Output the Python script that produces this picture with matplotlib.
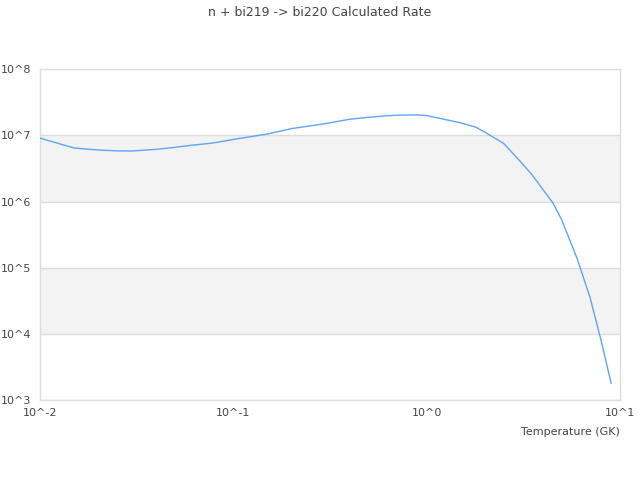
import matplotlib
matplotlib.use('Agg')
import matplotlib.pyplot as plt

# temperature grid (GK) and calculated rate
temperature = [0.01, 0.015, 0.02, 0.025, 0.03, 0.04, 0.05, 0.06, 0.07, 0.08, 0.09,
               0.1, 0.15, 0.2, 0.3, 0.4, 0.5, 0.6, 0.7, 0.8, 0.9,
               1.0, 1.5, 1.8, 2.0, 2.5, 3.0, 3.5, 4.0, 4.5, 5.0, 6.0, 7.0, 8.0, 9.0]
rate = [9.12e6, 6.46e6, 6.03e6, 5.85e6, 5.82e6, 6.17e6, 6.61e6, 7.08e6, 7.41e6, 7.76e6, 8.22e6,
        8.71e6, 1.05e7, 1.27e7, 1.51e7, 1.76e7, 1.88e7, 1.97e7, 2.02e7, 2.04e7, 2.04e7,
        2.00e7, 1.55e7, 1.33e7, 1.12e7, 7.59e6, 4.27e6, 2.57e6, 1.51e6, 9.55e5, 5.25e5, 1.38e5,
        3.55e4, 7.76e3, 1.78e3]

x_ticks = [1e-2, 1e-1, 1e0, 1e1]
x_labels = ['10^-2', '10^-1', '10^0', '10^1']
y_ticks = [1e3, 1e4, 1e5, 1e6, 1e7, 1e8]
y_labels = ['10^3', '10^4', '10^5', '10^6', '10^7', '10^8']

text_color = '#444444'
grid_color = '#dddddd'

fig = plt.figure(figsize=(6.4, 4.8), dpi=100)
ax = fig.add_axes([0.0625, 0.1667, 0.90625, 0.6889])

ax.set_xscale('log')
ax.set_yscale('log')
ax.set_xlim(1e-2, 1e1)
ax.set_ylim(1e3, 1e8)

# alternating bands between decades
for i in range(len(y_ticks) - 1):
    if i % 2 == 1:
        ax.axhspan(y_ticks[i], y_ticks[i + 1], color='#f3f3f3', zorder=0, lw=0)
for yv in y_ticks:
    ax.axhline(yv, color=grid_color, lw=1, zorder=1)

ax.plot(temperature, rate, color='#5fa4f5', lw=1, zorder=3)

ax.set_xticks(x_ticks)
ax.set_xticklabels(x_labels)
ax.set_yticks(y_ticks)
ax.set_yticklabels(y_labels)
ax.minorticks_off()
ax.tick_params(length=0, labelsize=8, colors=text_color)
ax.tick_params(axis='x', pad=6)
ax.tick_params(axis='y', pad=6)

for side in ['left', 'right', 'top', 'bottom']:
    ax.spines[side].set_color(grid_color)
    ax.spines[side].set_linewidth(1)

fig.text(0.5, 0.975, 'n + bi219 -> bi220 Calculated Rate', ha='center', va='center',
         fontsize=9, color=text_color)
fig.text(0.96875, 0.101, 'Temperature (GK)', ha='right', va='center',
         fontsize=8, color=text_color)

fig.savefig('out.png', dpi=100)
